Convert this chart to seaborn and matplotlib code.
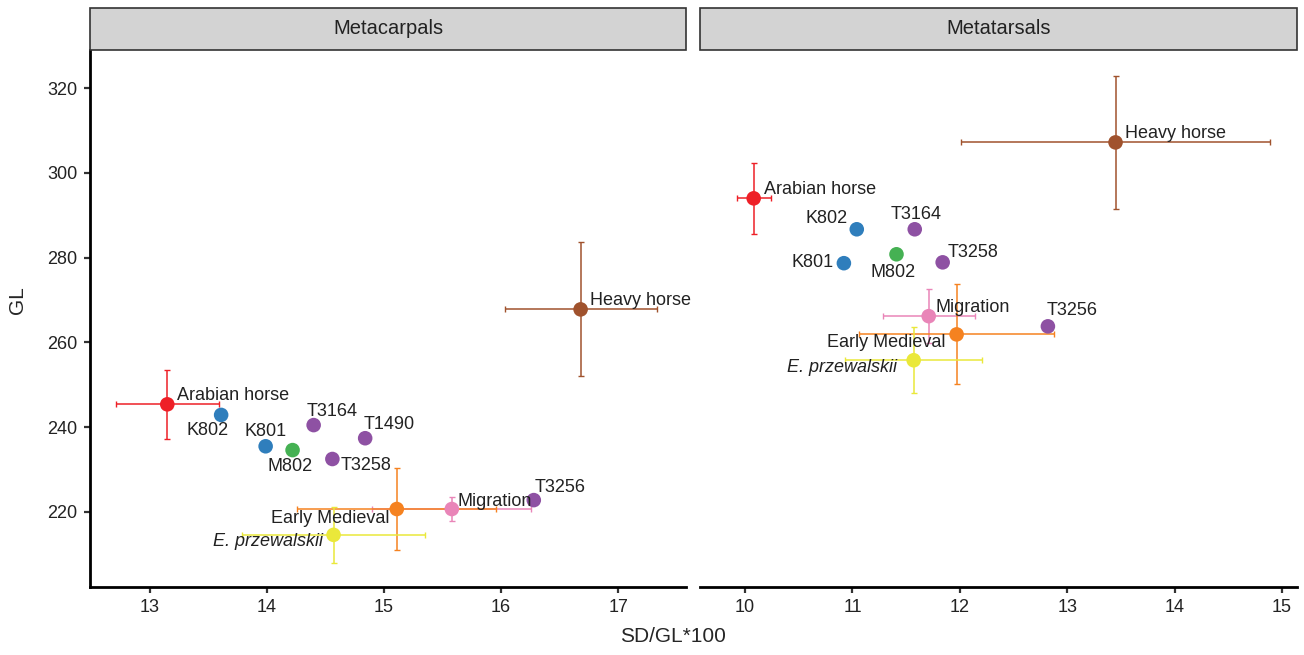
import numpy as np
import pandas as pd
import seaborn as sns
import matplotlib.pyplot as plt
from matplotlib.patches import Rectangle

sns.set_style('white')
plt.rcParams['font.family'] = ['Liberation Sans', 'DejaVu Sans']

# dados
bone = ['Metacarpals'] * 12 + ['Metatarsals'] * 11
label = ['Arabian horse', 'K802', 'K801', 'M802', 'T3164', 'T1490', 'T3258', 'T3256',
         'Heavy horse', 'Migration', 'Early Medieval', 'E. przewalskii',
         'Arabian horse', 'K802', 'T3164', 'K801', 'M802', 'T3258', 'Migration',
         'T3256', 'Early Medieval', 'E. przewalskii', 'Heavy horse']
group = ['Arabian', 'K', 'K', 'M', 'T', 'T', 'T', 'T',
         'Heavy', 'Migration', 'Early Medieval', 'Przewalski',
         'Arabian', 'K', 'T', 'K', 'M', 'T', 'Migration',
         'T', 'Early Medieval', 'Przewalski', 'Heavy']
sd_gl = [13.15, 13.61, 13.99, 14.22, 14.40, 14.84, 14.56, 16.28,
         16.68, 15.58, 15.11, 14.57,
         10.08, 11.04, 11.58, 10.92, 11.41, 11.84, 11.71,
         12.82, 11.97, 11.57, 13.45]
gl = [245.4, 242.9, 235.5, 234.6, 240.5, 237.4, 232.5, 222.8,
      267.8, 220.7, 220.7, 214.6,
      294.0, 286.7, 286.7, 278.7, 280.8, 278.9, 266.2,
      263.8, 261.9, 255.8, 307.2]
sd_gl_err = [0.44, 0, 0, 0, 0, 0, 0, 0,
             0.65, 0.68, 0.85, 0.78,
             0.16, 0, 0, 0, 0, 0, 0.43,
             0, 0.91, 0.64, 1.44]
gl_err = [8.2, 0, 0, 0, 0, 0, 0, 0,
          15.8, 2.8, 9.6, 6.6,
          8.3, 0, 0, 0, 0, 0, 6.3,
          0, 11.8, 7.8, 15.7]

df = pd.DataFrame({'bone': bone, 'label': label, 'group': group,
                   'sd_gl': sd_gl, 'gl': gl, 'sd_gl_err': sd_gl_err, 'gl_err': gl_err})

cores = {'Arabian': '#EE2027', 'K': '#2F7EBC', 'M': '#45B153', 'T': '#8E51A3',
         'Heavy': '#A0522D', 'Migration': '#E985B8', 'Early Medieval': '#F58220',
         'Przewalski': '#EAE83A'}

# deslocamento dos rotulos (pixels): dx, dy, ha
offsets = {
    'Metacarpals': {'Arabian horse': (10, 9, 'left'), 'K802': (-14, -16, 'center'),
                    'K801': (0, 15, 'center'), 'M802': (-3, -16, 'center'),
                    'T3164': (18, 14, 'center'), 'T1490': (24, 14, 'center'),
                    'T3258': (8, -6, 'left'), 'T3256': (26, 13, 'center'),
                    'Heavy horse': (9, 9, 'left'), 'Migration': (6, 8, 'left'),
                    'Early Medieval': (-7, -9, 'right'), 'E. przewalskii': (-11, -7, 'right')},
    'Metatarsals': {'Arabian horse': (10, 9, 'left'), 'K802': (-9, 11, 'right'),
                    'T3164': (1, 15, 'center'), 'K801': (-10, 1, 'right'),
                    'M802': (-3, -18, 'center'), 'T3258': (5, 10, 'left'),
                    'Migration': (7, 9, 'left'), 'T3256': (24, 16, 'center'),
                    'Early Medieval': (-11, -8, 'right'), 'E. przewalskii': (-17, -7, 'right'),
                    'Heavy horse': (9, 9, 'left')},
}

W, H = 1304, 655
fig = plt.figure(figsize=(W / 100, H / 100), dpi=100)

paineis = [('Metacarpals', 90, 686, (12.49, 17.58), [13, 14, 15, 16, 17]),
           ('Metatarsals', 700, 1297, (9.58, 15.14), [10, 11, 12, 13, 14, 15])]
top, bottom = 50, 587

for i, (nome, x0, x1, xlim, xticks) in enumerate(paineis):
    ax = fig.add_axes([x0 / W, 1 - bottom / H, (x1 - x0) / W, (bottom - top) / H])
    sub = df[df['bone'] == nome]

    # barras de erro
    for _, r in sub.iterrows():
        if r['sd_gl_err'] > 0:
            ax.errorbar(r['sd_gl'], r['gl'], xerr=r['sd_gl_err'], yerr=r['gl_err'],
                        fmt='none', ecolor=cores[r['group']], elinewidth=1.1,
                        capsize=2, capthick=1.0, zorder=2)

    sns.scatterplot(data=sub, x='sd_gl', y='gl', hue='group', palette=cores,
                    s=110, edgecolor='none', legend=False, ax=ax, zorder=3)

    for _, r in sub.iterrows():
        dx, dy, ha = offsets[nome][r['label']]
        estilo = 'italic' if r['label'] == 'E. przewalskii' else 'normal'
        ax.annotate(r['label'], (r['sd_gl'], r['gl']), xytext=(dx, dy),
                    textcoords='offset pixels', ha=ha, va='center',
                    fontsize=13, fontstyle=estilo, color='#222222', zorder=4)

    ax.set_xlim(xlim)
    ax.set_ylim(202.3, 329)
    ax.set_xticks(xticks)
    ax.set_yticks([220, 240, 260, 280, 300, 320])
    ax.set_xlabel('')
    ax.set_ylabel('')
    ax.tick_params(axis='both', direction='out', length=4, width=1.6, pad=5,
                   labelsize=13, colors='#333333', labelcolor='#222222',
                   bottom=True, left=(i == 0))
    for s in ['top', 'right']:
        ax.spines[s].set_visible(False)
    ax.spines['bottom'].set_linewidth(2)
    ax.spines['bottom'].set_color('black')
    if i == 0:
        ax.spines['left'].set_linewidth(2)
        ax.spines['left'].set_color('black')
    else:
        ax.spines['left'].set_visible(False)
        ax.set_yticklabels([])

    # faixa cinza do titulo
    fig.patches.append(Rectangle((x0 / W, 1 - 50 / H), (x1 - x0) / W, 42 / H,
                                 transform=fig.transFigure, facecolor='#D3D3D3',
                                 edgecolor='#333333', linewidth=1.2))
    fig.text((x0 + x1) / 2 / W, 1 - 29 / H, nome, ha='center', va='center',
             fontsize=14.5, color='#222222')

fig.text(673 / W, 1 - 636 / H, 'SD/GL*100', ha='center', va='center', fontsize=15)
fig.text(18 / W, 1 - 300 / H, 'GL', ha='center', va='center', rotation=90, fontsize=15)

plt.savefig('out.png', dpi=100)
